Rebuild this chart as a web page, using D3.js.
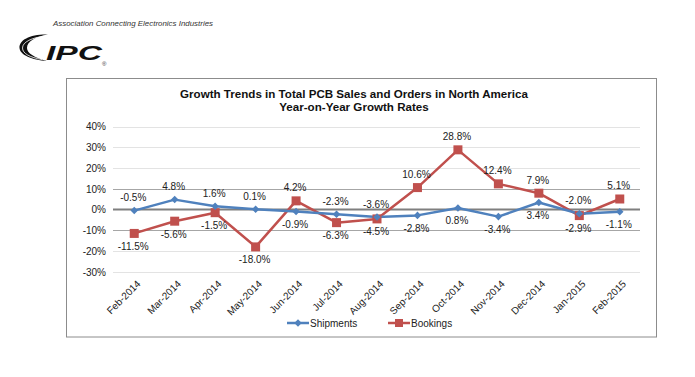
<!DOCTYPE html>
<html><head><meta charset="utf-8">
<script src="https://cdn.jsdelivr.net/npm/d3@7"></script>
<style>
html,body{margin:0;padding:0;background:#fff;}
svg{display:block;font-family:"Liberation Sans",Arial,sans-serif;}
</style></head>
<body>
<script>
const months = ["Feb-2014","Mar-2014","Apr-2014","May-2014","Jun-2014","Jul-2014","Aug-2014","Sep-2014","Oct-2014","Nov-2014","Dec-2014","Jan-2015","Feb-2015"];
const shipments = [-0.5, 4.8, 1.6, 0.1, -0.9, -2.3, -3.6, -2.8, 0.8, -3.4, 3.4, -2.0, -1.1];
const bookings = [-11.5, -5.6, -1.5, -18.0, 4.2, -6.3, -4.5, 10.6, 28.8, 12.4, 7.9, -2.9, 5.1];
const yTicks = [-30, -20, -10, 0, 10, 20, 30, 40];
const shipLabelPos = ["above","above","above","above","below","above","above","below","below","below","below","above","below"];
const bookLabelPos = ["below","below","below","below","above","below","below","above","above","above","above","below","above"];
const titleLines = ["Growth Trends in Total PCB Sales and Orders in North America","Year-on-Year Growth Rates"];

const W = 695, H = 377;
const svg = d3.select("body").append("svg").attr("width", W).attr("height", H);

// ---- Logo ----
svg.append("text").attr("x", 53).attr("y", 25.5)
  .attr("font-size", 7.6).attr("font-style", "italic").attr("fill", "#333")
  .attr("textLength", 160).attr("lengthAdjust", "spacingAndGlyphs")
  .text("Association Connecting Electronics Industries");
svg.append("path")
  .attr("d", "M48,34.5 C30,34 19,40 19.5,48 C20,55 32,60 47,61 C34,57.5 27,53 27,48 C27,41 36,36.5 48,34.5 Z")
  .attr("fill", "#111");
svg.append("path")
  .attr("d", "M45,36.2 C32,37.5 22.5,42 22.5,48 C22.5,53.5 30,57.5 42,59.5")
  .attr("fill", "none").attr("stroke", "#fff").attr("stroke-width", 0.8);
svg.append("text").attr("x", 46).attr("y", 59.5)
  .attr("font-size", 20).attr("font-weight", "bold").attr("font-style", "italic").attr("fill", "#111")
  .attr("textLength", 56).attr("lengthAdjust", "spacingAndGlyphs")
  .text("IPC");
svg.append("text").attr("x", 102).attr("y", 66)
  .attr("font-size", 6).attr("fill", "#333").text("®");

// ---- Chart frame ----
svg.append("rect").attr("x", 66.5).attr("y", 78.5).attr("width", 590).attr("height", 258.5)
  .attr("fill", "#fff").attr("stroke", "#8c8c8c").attr("stroke-width", 1);

// title
svg.append("g").selectAll("text").data(titleLines).join("text")
  .attr("x", 354).attr("y", (d, i) => 97.5 + i * 13.5)
  .attr("text-anchor", "middle").attr("font-size", 11.6).attr("font-weight", "bold").attr("fill", "#111")
  .text(d => d);

const x = d3.scalePoint().domain(months).range([114, 640]).padding(0.5);
const y = d3.scaleLinear().domain([-30, 40]).range([271.8, 126.6]);

// gridlines
const grid = svg.append("g");
grid.selectAll("line").data(yTicks.filter(t => t !== 0)).join("line")
  .attr("x1", 113).attr("x2", 640)
  .attr("y1", d => Math.round(y(d)) + 0.5).attr("y2", d => Math.round(y(d)) + 0.5)
  .attr("stroke", d => Math.abs(d) === 10 ? "#a6a6a6" : "#e3e3e3").attr("stroke-width", 1);

// y axis labels via d3 axis
const yAxis = svg.append("g").attr("transform", "translate(106,0)")
  .call(d3.axisLeft(y).tickValues(yTicks).tickSize(0).tickPadding(0).tickFormat(d => d + "%"));
yAxis.select(".domain").remove();
yAxis.selectAll("text").attr("font-size", 10).attr("fill", "#222").attr("font-family", "Liberation Sans, Arial, sans-serif");

// zero line
svg.append("line").attr("x1", 113).attr("x2", 640).attr("y1", y(0)).attr("y2", y(0))
  .attr("stroke", "#7f7f7f").attr("stroke-width", 2);

// x axis labels
const xAxis = svg.append("g").attr("transform", "translate(0,276)")
  .call(d3.axisBottom(x).tickSize(0).tickPadding(0));
xAxis.select(".domain").remove();
xAxis.selectAll("text")
  .attr("font-size", 10).attr("fill", "#222").attr("font-family", "Liberation Sans, Arial, sans-serif")
  .attr("text-anchor", "end").attr("dy", "0.35em")
  .attr("transform", "translate(4,6) rotate(-45)");

const line = d3.line().x((d, i) => x(months[i])).y(d => y(d));
const blue = "#4f81bd", red = "#c0504d";

// bookings
svg.append("path").datum(bookings).attr("d", line).attr("fill", "none")
  .attr("stroke", red).attr("stroke-width", 2.5).attr("stroke-linejoin", "round");
// shipments
svg.append("path").datum(shipments).attr("d", line).attr("fill", "none")
  .attr("stroke", blue).attr("stroke-width", 2.5).attr("stroke-linejoin", "round");

svg.append("g").selectAll("rect").data(bookings).join("rect")
  .attr("x", (d, i) => x(months[i]) - 4.5).attr("y", d => y(d) - 4.5)
  .attr("width", 9).attr("height", 9).attr("fill", red);
const diamond = d3.symbol().type(d3.symbolDiamond2).size(36);
svg.append("g").selectAll("path").data(shipments).join("path")
  .attr("transform", (d, i) => `translate(${x(months[i])},${y(d)})`)
  .attr("d", diamond).attr("fill", blue);

// data labels
function labels(data, pos) {
  svg.append("g").selectAll("text").data(data).join("text")
    .attr("x", (d, i) => x(months[i]) - 1)
    .attr("y", (d, i) => y(d) + (pos[i] === "above" ? -13 : 13))
    .attr("dy", "0.35em").attr("text-anchor", "middle")
    .attr("font-size", 10).attr("fill", "#222")
    .text(d => d.toFixed(1) + "%");
}
labels(shipments, shipLabelPos);
labels(bookings, bookLabelPos);

// legend
const legend = svg.append("g").attr("transform", "translate(0,323)");
const items = [{name: "Shipments", c: blue, x: 287, m: "diamond"}, {name: "Bookings", c: red, x: 388, m: "square"}];
items.forEach(it => {
  legend.append("line").attr("x1", it.x).attr("x2", it.x + 22).attr("y1", 0).attr("y2", 0)
    .attr("stroke", it.c).attr("stroke-width", 2.5);
  if (it.m === "square") {
    legend.append("rect").attr("x", it.x + 7).attr("y", -4).attr("width", 8).attr("height", 8).attr("fill", it.c);
  } else {
    legend.append("path").attr("transform", `translate(${it.x + 11},0)`).attr("d", diamond).attr("fill", it.c);
  }
  legend.append("text").attr("x", it.x + 23).attr("y", 0).attr("dy", "0.35em")
    .attr("font-size", 10).attr("fill", "#222").text(it.name);
});
</script>
</body></html>
